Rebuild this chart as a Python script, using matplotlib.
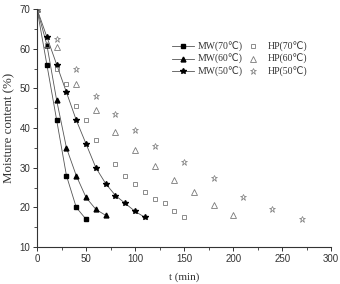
import matplotlib
matplotlib.use("Agg")
import matplotlib.pyplot as plt

# drying curves, moisture content (%) vs time (min)
mw70_t = [0, 10, 20, 30, 40, 50]
mw70_m = [70, 56, 42, 28, 20, 17]
mw60_t = [0, 10, 20, 30, 40, 50, 60, 70]
mw60_m = [70, 61, 47, 35, 28, 22.5, 19.5, 18]
mw50_t = [0, 10, 20, 30, 40, 50, 60, 70, 80, 90, 100, 110]
mw50_m = [70, 63, 56, 49, 42, 36, 30, 26, 23, 21, 19, 17.5]

hp70_t = [0, 10, 20, 30, 40, 50, 60, 80, 90, 100, 110, 120, 130, 140, 150]
hp70_m = [70, 61, 55, 51, 45.5, 42, 37, 31, 28, 26, 24, 22, 21, 19, 17.5]
hp60_t = [0, 20, 40, 60, 80, 100, 120, 140, 160, 180, 200]
hp60_m = [70, 60.5, 51, 44.5, 39, 34.5, 30.5, 27, 24, 20.5, 18]
hp50_t = [0, 20, 40, 60, 80, 100, 120, 150, 180, 210, 240, 270]
hp50_m = [70, 62.5, 55, 48, 43.5, 39.5, 35.5, 31.5, 27.5, 22.5, 19.5, 17]

serif = ["Liberation Serif", "DejaVu Sans"]
plt.rcParams["font.family"] = "Liberation Sans"

fig = plt.figure(figsize=(3.4, 2.84), dpi=100)
ax = fig.add_axes([0.109, 0.130, 0.865, 0.838])

lc = "#555555"
ax.plot(mw70_t, mw70_m, "-s", color=lc, lw=0.6, ms=3, mfc="black", mec="black", label="MW(70℃)")
ax.plot(mw60_t, mw60_m, "-^", color=lc, lw=0.6, ms=3.5, mfc="black", mec="black", label="MW(60℃)")
ax.plot(mw50_t, mw50_m, "-*", color=lc, lw=0.6, ms=4, mfc="black", mec="black", label="MW(50℃)")

gc = "#7a7a7a"
ax.plot(hp70_t, hp70_m, "s", ms=3, mfc="none", mec=gc, mew=0.6, label="HP(70℃)")
ax.plot(hp60_t, hp60_m, "^", ms=3.8, mfc="none", mec=gc, mew=0.6, label="HP(60℃)")
ax.plot(hp50_t, hp50_m, "*", ms=4.5, mfc="none", mec=gc, mew=0.5, label="HP(50℃)")

ax.set_xlim(0, 300)
ax.set_ylim(10, 70)
ax.set_xticks(range(0, 301, 50))
ax.set_xticks(range(25, 300, 50), minor=True)
ax.set_yticks(range(10, 71, 10))
ax.set_yticks(range(15, 70, 10), minor=True)
ax.spines["top"].set_visible(False)
ax.spines["right"].set_visible(False)
for s in ("left", "bottom"):
    ax.spines[s].set_color("#333333")
    ax.spines[s].set_linewidth(0.8)
ax.tick_params(which="major", length=3, width=0.7, labelsize=7, colors="#333333", pad=2)
ax.tick_params(which="minor", length=2, width=0.6, colors="#333333")

ax.set_xlabel("t (min)", family=serif, fontsize=8, color="#333333", labelpad=6)
ax.set_ylabel("Moisture content (%)", family=serif, fontsize=9.3, color="#333333", labelpad=3)

ax.legend(loc="upper left", bbox_to_anchor=(0.43, 0.9), ncol=2, frameon=False,
          prop={"family": serif, "size": 7}, handlelength=2.2, handletextpad=0.4,
          columnspacing=0.0, labelspacing=0.25, labelcolor="#333333")

fig.savefig("out.png", dpi=100)
